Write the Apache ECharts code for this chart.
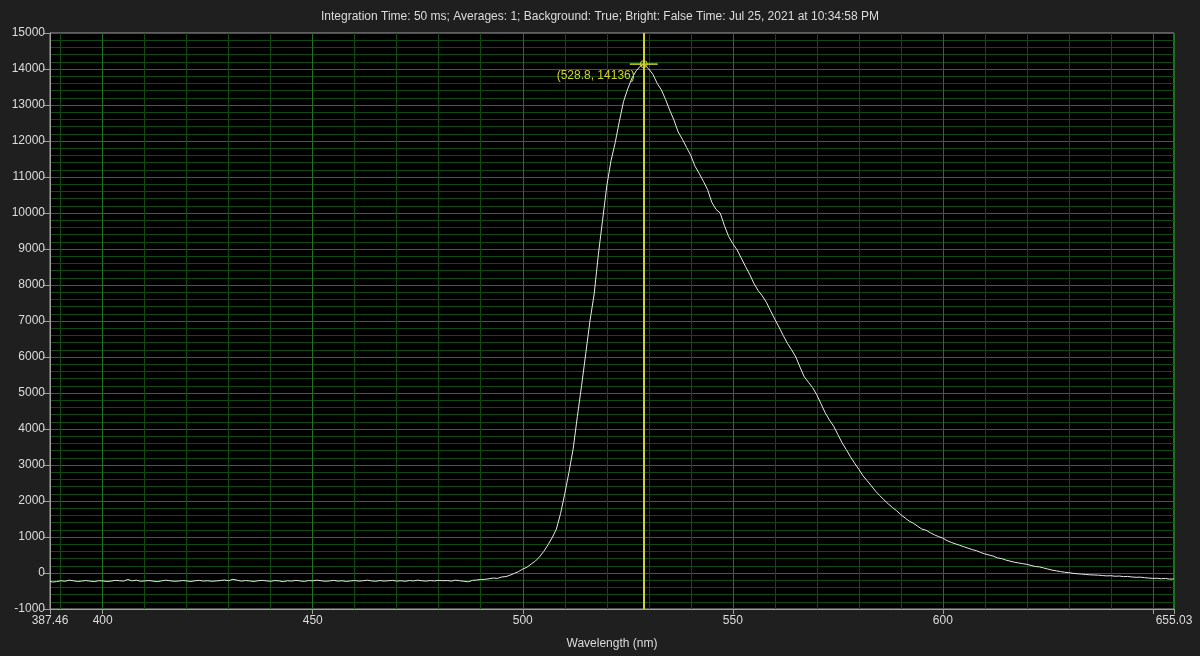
<!DOCTYPE html>
<html>
<head>
<meta charset="utf-8">
<script src="https://cdn.jsdelivr.net/npm/echarts@6/dist/echarts.min.js"></script>
<style>
html,body{margin:0;padding:0;background:#1f1f1f;}
#chart{width:1200px;height:656px;}
</style>
</head>
<body>
<div id="chart"></div>
<script>
var titleText = 'Integration Time: 50 ms; Averages: 1; Background: True; Bright: False Time: Jul 25, 2021 at 10:34:58 PM';
var xAxisName = 'Wavelength (nm)';
var xMin = 387.46, xMax = 655.03;
var yMin = -1000, yMax = 15000, yStep = 1000;
var hiddenXLabels = [650];
var peakX = 528.8, peakY = 14136;

var spectrum = [
[387.46,-230],[388,-250],[389,-240],[390,-215],[391,-230],[392,-200],[393,-215],[394,-235],[395,-225],[396,-210],
[397,-225],[398,-240],[399,-215],[400,-220],[401,-235],[402,-225],[403,-205],[404,-215],[405,-225],[406,-180],
[407,-220],[408,-200],[409,-230],[410,-220],[411,-210],[412,-225],[413,-240],[414,-220],[415,-200],[416,-215],
[417,-230],[418,-225],[419,-210],[420,-220],[421,-235],[422,-215],[423,-205],[424,-225],[425,-215],[426,-230],
[427,-220],[428,-210],[429,-195],[430,-215],[431,-175],[432,-200],[433,-225],[434,-210],[435,-220],[436,-235],
[437,-215],[438,-205],[439,-220],[440,-230],[441,-210],[442,-220],[443,-240],[444,-215],[445,-225],[446,-205],
[447,-220],[448,-235],[449,-210],[450,-220],[451,-200],[452,-215],[453,-230],[454,-220],[455,-205],[456,-225],
[457,-215],[458,-235],[459,-220],[460,-210],[461,-225],[462,-215],[463,-200],[464,-220],[465,-230],[466,-210],
[467,-225],[468,-215],[469,-205],[470,-225],[471,-215],[472,-230],[473,-210],[474,-220],[475,-200],[476,-215],
[477,-225],[478,-210],[479,-220],[480,-205],[481,-215],[482,-210],[483,-225],[484,-200],[485,-215],[486,-230],
[487,-245],[488,-205],[489,-195],[490,-180],[491,-175],[492,-160],[493,-140],[494,-150],[495,-110],[496,-100],
[497,-60],[498,-10],[499,40],[500,110],[501,160],[502,250],[503,330],[504,450],[505,600],[506,780],
[507,980],[508,1220],[509,1650],[510,2200],[511,2800],[512,3450],[513,4350],[514,5200],[515,6100],[516,7000],
[517,7750],[518,8850],[519,9800],[520,10750],[521,11450],[522,11950],[523,12550],[524,13100],[525,13450],[526,13750],
[527,13950],[528,14080],[528.8,14136],[529,14110],[530,14000],[531,13850],[532,13600],[533,13420],[534,13150],[535,12850],
[536,12580],[537,12250],[538,12050],[539,11820],[540,11600],[541,11300],[542,11100],[543,10880],[544,10650],[545,10300],
[546,10100],[547,10000],[548,9650],[549,9350],[550,9150],[551,8980],[552,8750],[553,8520],[554,8300],[555,8050],
[556,7850],[557,7700],[558,7520],[559,7280],[560,7050],[561,6830],[562,6600],[563,6380],[564,6200],[565,6000],
[566,5720],[567,5450],[568,5300],[569,5150],[570,4950],[571,4700],[572,4450],[573,4250],[574,4080],[575,3850],
[576,3620],[577,3430],[578,3230],[579,3050],[580,2880],[581,2700],[582,2560],[583,2420],[584,2270],[585,2150],
[586,2030],[587,1920],[588,1820],[589,1730],[590,1620],[591,1530],[592,1440],[593,1380],[594,1300],[595,1220],
[596,1190],[597,1120],[598,1060],[599,1010],[600,970],[601,900],[602,850],[603,810],[604,770],[605,730],
[606,690],[607,650],[608,620],[609,570],[610,530],[611,500],[612,470],[613,420],[614,400],[615,360],
[616,330],[617,300],[618,280],[619,260],[620,240],[621,210],[622,180],[623,170],[624,140],[625,110],
[626,80],[627,60],[628,40],[629,20],[630,10],[631,-10],[632,-20],[633,-30],[634,-40],[635,-50],
[636,-55],[637,-60],[638,-70],[639,-80],[640,-75],[641,-90],[642,-85],[643,-100],[644,-95],[645,-110],
[646,-120],[647,-115],[648,-130],[649,-140],[650,-150],[651,-145],[652,-160],[653,-150],[654,-170],[655,-165],
[655.03,-175]
];

var FONT = 'Liberation Sans';
var TXT = '#dcdcdc';
var AXIS = '#a0a0a0';
var MAJOR = '#1f721f';
var MINOR = '#114a11';
var YEL = '#d2d22a';

var chart = echarts.init(document.getElementById('chart'));
chart.setOption({
  animation: false,
  backgroundColor: '#1f1f1f',
  textStyle: {fontFamily: FONT},
  title: {
    text: titleText, left: 'center', top: 6,
    textStyle: {color: TXT, fontSize: 12, fontWeight: 'normal', fontFamily: FONT}
  },
  grid: {left: 50, right: 26, top: 33, bottom: 47, show: true, backgroundColor: '#000', borderColor: AXIS, borderWidth: 1},
  xAxis: {
    type: 'value', min: xMin, max: xMax, splitNumber: 5,
    name: xAxisName, nameLocation: 'middle', nameGap: 29,
    nameTextStyle: {color: TXT, fontSize: 12, fontFamily: FONT},
    axisLine: {show: true, onZero: false, lineStyle: {color: AXIS}},
    axisTick: {show: true, length: 5, lineStyle: {color: AXIS}},
    axisLabel: {color: TXT, fontSize: 12, margin: 6, fontFamily: FONT, showMinLabel: true, showMaxLabel: true,
      formatter: function (v) { return hiddenXLabels.indexOf(v) >= 0 ? '' : String(v); }},
    splitLine: {show: true, lineStyle: {color: MAJOR, width: 1}},
    minorTick: {show: true, splitNumber: 5, length: 0},
    minorSplitLine: {show: true, lineStyle: {color: MINOR, width: 1}}
  },
  yAxis: {
    type: 'value', min: yMin, max: yMax, interval: yStep,
    axisLine: {show: true, onZero: false, lineStyle: {color: AXIS}},
    axisTick: {show: true, length: 6, lineStyle: {color: AXIS}},
    axisLabel: {color: TXT, fontSize: 12, margin: 5, fontFamily: FONT,
      formatter: function (v) { return String(v); }},
    splitLine: {show: true, lineStyle: {color: MAJOR, width: 1}},
    minorTick: {show: true, splitNumber: 5, length: 0},
    minorSplitLine: {show: true, lineStyle: {color: MINOR, width: 1}}
  },
  series: [{
    type: 'line', data: spectrum, showSymbol: false, smooth: false, z: 3,
    lineStyle: {color: '#e8e8e8', width: 1},
    itemStyle: {color: '#e8e8e8'},
    markLine: {
      silent: true, symbol: 'none', label: {show: false}, z: 4,
      itemStyle: {color: YEL},
      lineStyle: {color: YEL, width: 2, type: 'solid', opacity: 1},
      emphasis: {disabled: true},
      data: [{xAxis: peakX, lineStyle: {color: YEL, width: 2, type: 'solid'}}]
    },
    markPoint: {
      silent: true, z: 5,
      data: [
        {coord: [peakX, peakY], symbol: 'rect', symbolSize: [28, 1.5],
          itemStyle: {color: YEL}, label: {show: false}},
        {coord: [peakX, peakY], symbol: 'circle', symbolSize: 7,
          itemStyle: {color: 'rgba(0,0,0,0)', borderColor: YEL, borderWidth: 1},
          label: {show: true, position: 'left', distance: 5, offset: [0, 12], color: YEL, fontSize: 12, fontFamily: FONT,
            formatter: function () { return '(' + peakX + ', ' + peakY + ')'; }}}
      ]
    }
  }]
});
</script>
</body>
</html>
